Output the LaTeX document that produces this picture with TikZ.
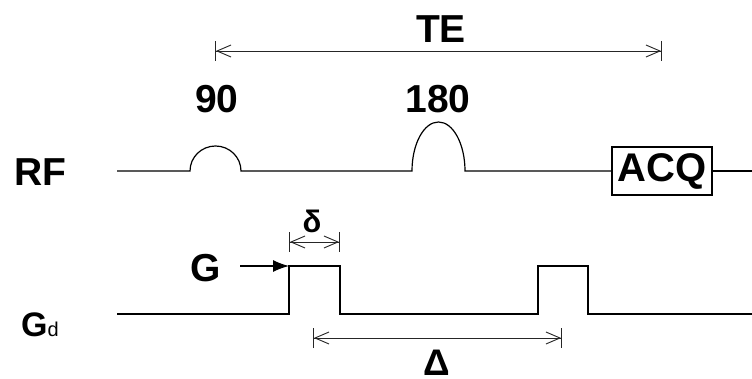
\documentclass[tikz,border=0pt]{standalone}
\usepackage{fontspec}
\setmainfont{Liberation Sans}
\usetikzlibrary{arrows.meta}
\tikzset{
  wave/.style={line width=1.2pt, line join=miter},
  lbl/.style={anchor=base, inner sep=0pt, font=\fontsize{39}{41}\selectfont\bfseries},
  dimarrow/.style={line width=0.9pt, draw=black!85,
    arrows={Bar[width=20pt,sep=0pt]Straight Barb[length=14pt,width=12pt]-Straight Barb[length=14pt,width=12pt]Bar[width=20pt,sep=0pt]}},
  ptr/.style={line width=1.2pt, -{Latex[length=16pt,width=12pt]}}
}
\begin{document}
\begin{tikzpicture}[x=1pt,y=-1pt]
\useasboundingbox (0,0) rectangle (752,379);
% labels
\node[lbl] (te) at (441,43) {TE};
\node[lbl] (n90) at (217,113) {90};
\node[lbl] (n180) at (438,113) {180};
\node[lbl] (rf) at (40,186) {RF};
\node[lbl] (g) at (206,281) {G};
\node[anchor=base, inner sep=0pt] (gd) at (40,336) {\fontsize{34}{36}\selectfont\bfseries G\fontsize{20}{22}\selectfont\mdseries d};
\node[lbl, font=\fontsize{31}{33}\selectfont\bfseries] (delta) at (312,233) {δ};
\node[lbl, font=\fontsize{37}{39}\selectfont\bfseries] (Delta) at (437,375) {Δ};
% ACQ box
\node[draw, line width=1.2pt, minimum width=100pt, minimum height=48pt, inner sep=0pt, font=\fontsize{40}{42}\selectfont\bfseries] (acq) at (662,171) {ACQ};
% RF line
\coordinate (rfs) at (117,171);
\coordinate (p90) at (190,171);
\coordinate (p180) at (412,171);
\coordinate (rfe) at (752,171);
\draw[wave] (rfs) -- (p90) arc[start angle=180, end angle=0, x radius=25.5pt, y radius=25pt]
  -- (p180) arc[start angle=180, end angle=0, x radius=26.5pt, y radius=49pt] -- (acq.west);
\draw[wave] (acq.east) -- (rfe);
% gradient line
\coordinate (gs) at (117,314);
\coordinate (g1a) at (289,314);
\coordinate (g1b) at (289,266);
\coordinate (g1c) at (340,266);
\coordinate (g1d) at (340,314);
\coordinate (g2a) at (538,314);
\coordinate (g2b) at (538,266);
\coordinate (g2c) at (588,266);
\coordinate (g2d) at (588,314);
\coordinate (ge) at (752,314);
\draw[wave] (gs) -- (g1a) -- (g1b) -- (g1c) -- (g1d) -- (g2a) -- (g2b) -- (g2c) -- (g2d) -- (ge);
% G pointer
\coordinate (gp) at (240,266);
\draw[ptr] (gp) -- (g1b);
% dimension arrows
\coordinate (te1) at (215,51);
\coordinate (te2) at (662,51);
\draw[dimarrow] (te1) -- (te2);
\coordinate (d1) at (289,242);
\coordinate (d2) at (340,242);
\draw[dimarrow] (d1) -- (d2);
\coordinate (D1) at (313,338);
\coordinate (D2) at (562,338);
\draw[dimarrow] (D1) -- (D2);
\end{tikzpicture}
\end{document}
